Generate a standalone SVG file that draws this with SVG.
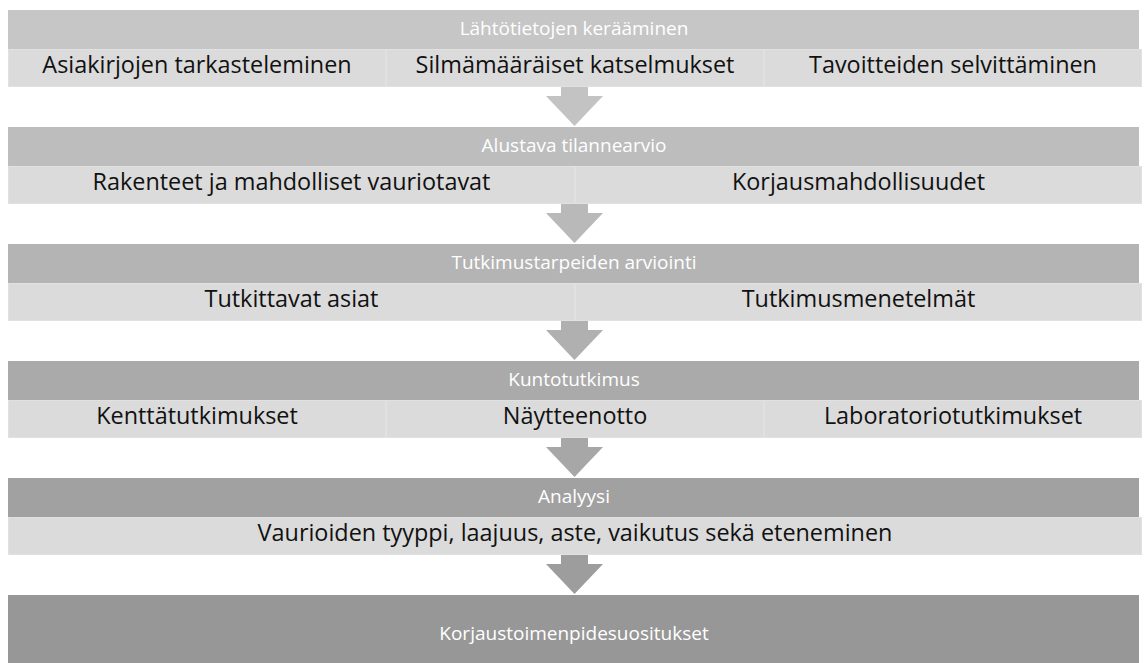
<svg xmlns="http://www.w3.org/2000/svg" width="1144" height="663" viewBox="0 0 1144 663">
<style>
.hd{font-family:"Open Sans","Liberation Sans",sans-serif;font-size:19px;fill:#ffffff;text-anchor:middle}
.sb{font-family:"Open Sans","Liberation Sans",sans-serif;font-size:23.4px;fill:#111111;text-anchor:middle}
.cell{fill:#dbdbdb;stroke:#e1e1e1;stroke-width:1}
</style>
<rect width="1144" height="663" fill="#ffffff"/>
<g id="connectors">
<polygon fill="#c3c3c3" points="561,86 588,86 588,96 603,96 574.5,126 546,96 561,96"/>
<polygon fill="#b9b9b9" points="561,203 588,203 588,213 603,213 574.5,243 546,213 561,213"/>
<polygon fill="#b0b0b0" points="561,320 588,320 588,330 603,330 574.5,360 546,330 561,330"/>
<polygon fill="#a7a7a7" points="561,437 588,437 588,447 603,447 574.5,477 546,447 561,447"/>
<polygon fill="#9d9d9d" points="561,554 588,554 588,564 603,564 574.5,594 546,564 561,564"/>
</g>
<g id="band1">
<rect x="8" y="10" width="1131" height="39" fill="#c6c6c6"/>
<text class="hd" x="574" y="35">Lähtötietojen kerääminen</text>
<rect class="cell" x="8.5" y="49.5" width="377" height="37"/>
<rect class="cell" x="386.5" y="49.5" width="377" height="37"/>
<rect class="cell" x="764.5" y="49.5" width="377" height="37"/>
<text class="sb" x="197" y="73">Asiakirjojen tarkasteleminen</text>
<text class="sb" x="575" y="73">Silmämääräiset katselmukset</text>
<text class="sb" x="953" y="73">Tavoitteiden selvittäminen</text>
</g>
<g id="band2">
<rect x="8" y="127" width="1131" height="39" fill="#bdbdbd"/>
<text class="hd" x="574" y="152">Alustava tilannearvio</text>
<rect class="cell" x="8.5" y="166.5" width="566" height="37"/>
<rect class="cell" x="575.5" y="166.5" width="566" height="37"/>
<text class="sb" x="291.5" y="190">Rakenteet ja mahdolliset vauriotavat</text>
<text class="sb" x="858.5" y="190">Korjausmahdollisuudet</text>
</g>
<g id="band3">
<rect x="8" y="244" width="1131" height="39" fill="#b4b4b4"/>
<text class="hd" x="574" y="269">Tutkimustarpeiden arviointi</text>
<rect class="cell" x="8.5" y="283.5" width="566" height="37"/>
<rect class="cell" x="575.5" y="283.5" width="566" height="37"/>
<text class="sb" x="291.5" y="307">Tutkittavat asiat</text>
<text class="sb" x="858.5" y="307">Tutkimusmenetelmät</text>
</g>
<g id="band4">
<rect x="8" y="361" width="1131" height="39" fill="#aaaaaa"/>
<text class="hd" x="574" y="386">Kuntotutkimus</text>
<rect class="cell" x="8.5" y="400.5" width="377" height="37"/>
<rect class="cell" x="386.5" y="400.5" width="377" height="37"/>
<rect class="cell" x="764.5" y="400.5" width="377" height="37"/>
<text class="sb" x="197" y="424">Kenttätutkimukset</text>
<text class="sb" x="575" y="424">Näytteenotto</text>
<text class="sb" x="953" y="424">Laboratoriotutkimukset</text>
</g>
<g id="band5">
<rect x="8" y="478" width="1131" height="39" fill="#a1a1a1"/>
<text class="hd" x="574" y="503">Analyysi</text>
<rect class="cell" x="8.5" y="517.5" width="1133" height="37"/>
<text class="sb" x="575" y="541">Vaurioiden tyyppi, laajuus, aste, vaikutus sekä eteneminen</text>
</g>
<g id="final">
<rect x="8" y="595" width="1131" height="68" fill="#979797"/>
<text class="hd" x="574" y="640">Korjaustoimenpidesuositukset</text>
</g>
</svg>
